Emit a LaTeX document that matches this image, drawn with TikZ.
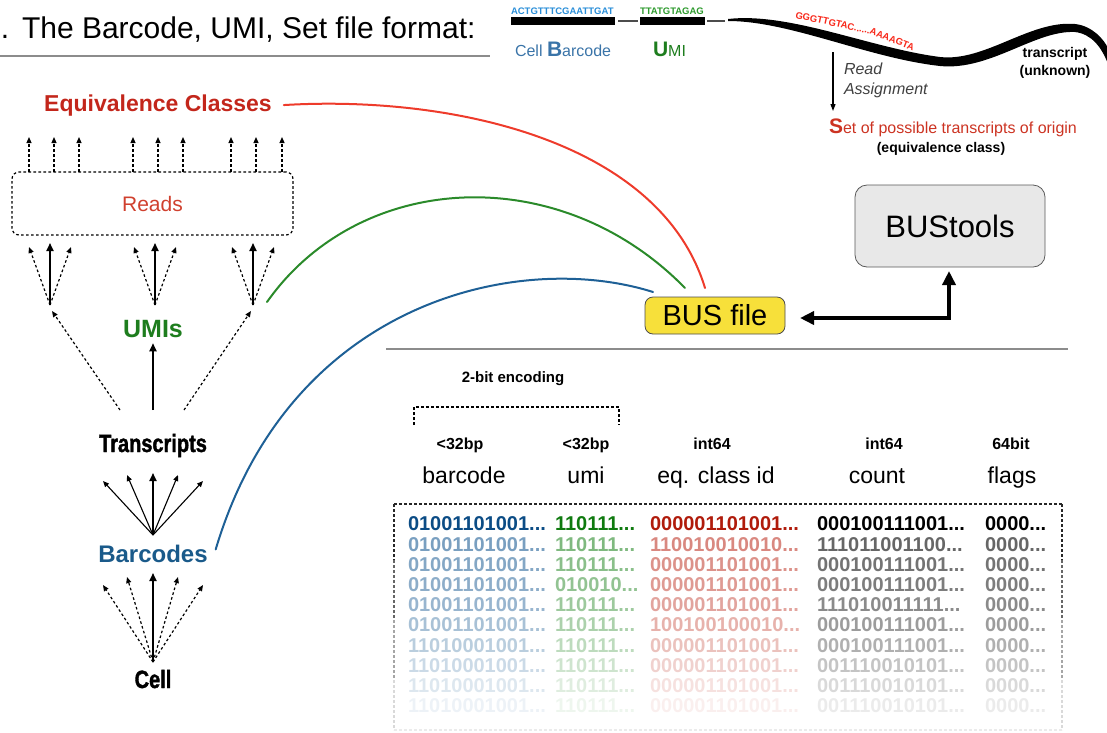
\documentclass[tikz,border=0pt]{standalone}
\usepackage{fontspec}
\setmainfont{Liberation Sans}
\newfontfamily\heavyfont{Liberation Sans}[UprightFont={* Bold}, FakeBold=1.5, FakeStretch=0.8]
\usetikzlibrary{arrows.meta,calc}
\newcommand\fsz[1]{\fontsize{#1}{#1}\selectfont}
\definecolor{eqred}{HTML}{C3261B}
\definecolor{readsred}{HTML}{D0402E}
\definecolor{setred}{HTML}{CC3322}
\definecolor{seqred}{HTML}{F8281A}
\definecolor{curvered}{HTML}{EE3B2B}
\definecolor{umigreen}{HTML}{1E7D1E}
\definecolor{seqgreen}{HTML}{2E9A2E}
\definecolor{curvegreen}{HTML}{2A8A2A}
\definecolor{bcblue}{HTML}{1A5A8A}
\definecolor{seqblue}{HTML}{2A8ED8}
\definecolor{cbblue}{HTML}{3A74A8}
\definecolor{curveblue}{HTML}{1E6096}
\definecolor{busyellow}{HTML}{F7E03A}
\definecolor{btgray}{HTML}{E8E8E8}
\definecolor{rowblueA}{HTML}{0B4C85}
\definecolor{rowgreenA}{HTML}{0F7A0F}
\definecolor{rowredA}{HTML}{B01B0B}
\definecolor{rowblue}{HTML}{1F5F96}
\definecolor{rowgreen}{HTML}{2A8A2A}
\definecolor{rowred}{HTML}{C0392B}
\tikzset{
  dsh/.style={dash pattern=on 2.6pt off 2.4pt, line width=1.2pt},
  tipS/.style={-{Triangle[length=6pt,width=5pt]}},
  tipM/.style={-{Triangle[length=8pt,width=7pt]}},
  solidarr/.style={line width=1.8pt, tipM},
  thinarr/.style={line width=1.1pt, tipS},
  curve/.style={line width=2pt, line cap=round},
  rowtxt/.style={anchor=west, font=\fsz{20}\bfseries},
  seqtxt/.style={font=\fsz{9.5}\bfseries, text=seqred},
}
\begin{document}
\begin{tikzpicture}[x=1pt,y=-1pt, every node/.style={inner sep=0pt, outer sep=0pt}]
\useasboundingbox (0,0) rectangle (1107,732);

% ---- title
\node[anchor=base west, font=\fsz{30}] (dot) at (1,38) {.};
\node[anchor=base west, font=\fsz{30}] (title) at (22,38) {The Barcode, UMI, Set file format:};
\draw[black!45, line width=1.5pt] (0,56) -- (490,56);

% ---- top right read structure
\node[anchor=base west, font=\fsz{9.5}\bfseries, text=seqblue] (bcseq) at (511,14) {ACTGTTTCGAATTGAT};
\fill (511,17) rectangle (615,25);
\draw[line width=1.3pt, black!70] (618,21) -- (638,21);
\node[anchor=base west, font=\fsz{9.5}\bfseries, text=seqgreen] (umiseq) at (640,14) {TTATGTAGAG};
\fill (640,17) rectangle (705,25);
\draw[line width=1.3pt, black!70] (707,21) -- (725,21);
\fill (728,19) .. controls (790,12) and (870,48) .. (940,57)
  .. controls (985,62) and (1030,20) .. (1075,24)
  .. controls (1093,26) and (1104,40) .. (1108,48)
  -- (1108,64) .. controls (1102,48) and (1092,34) .. (1075,32)
  .. controls (1035,30) and (990,71) .. (940,66)
  .. controls (868,58) and (790,21) .. (728,21) -- cycle;
\node[seqtxt, rotate=-12, anchor=base west] (seq1) at (795,18) {GGGTTGTAC......};
\node[seqtxt, rotate=-21, anchor=base west] (seq2) at (seq1.base east) {AAAAGTA};
\node[anchor=base west, font=\fsz{16}, text=cbblue] (cb) at (515,56) {Cell {\fsz{21}\bfseries B}arcode};
\node[anchor=base west, font=\fsz{16}, text=umigreen] (umil) at (653,56) {{\fsz{21}\bfseries U}MI};
\node[anchor=base, font=\fsz{14}\bfseries] (tr1) at (1055,57) {transcript};
\node[anchor=base, font=\fsz{14}\bfseries] (tr2) at (1055,75) {(unknown)};
\coordinate (ra1) at (833,52);
\coordinate (ra2) at (833,111);
\draw[line width=1.1pt, -{Triangle[length=7pt,width=5pt]}] (ra1) -- (ra2);
\node[anchor=base west, font=\fsz{16}\itshape, text=black!75] (read) at (844,74) {Read};
\node[anchor=base west, font=\fsz{16}\itshape, text=black!75] (assign) at (844,94) {Assignment};
\node[anchor=base west, font=\fsz{16}, text=setred] (set) at (829,133) {{\fsz{21}\bfseries S}et of possible transcripts of origin};
\node[anchor=base, font=\fsz{14}\bfseries] (eqc) at (941,152) {(equivalence class)};

% ---- left hierarchy
\node[anchor=base, font=\fsz{23}\bfseries, text=eqred] (eq) at (158,111) {Equivalence Classes};
\node[draw, dsh, rounded corners=7pt, minimum width=281pt, minimum height=63pt,
      font=\fsz{21}, text=readsred] (box) at (152.5,203.5) {Reads};
\foreach \x in {29,54,79,133,158,183,231,256,282}
  \draw[dsh, tipS] (\x,0 |- box.north) -- (\x,137);
\foreach \gx/\n in {50/1,155/2,253/3} {
  \coordinate (g\n) at (\gx,305);
  \draw[solidarr] (g\n) -- ($(g\n)+(0,-62)$);
  \draw[dsh, tipS] (g\n) -- ($(g\n)+(-21,-58)$);
  \draw[dsh, tipS] (g\n) -- ($(g\n)+(21,-58)$);
}
\node[anchor=base, font=\fsz{25}\bfseries, text=umigreen] (umis) at (153,337) {UMIs};
\node[anchor=base, font=\fsz{25}\heavyfont] (trans) at (153,452) {Transcripts};
\coordinate (tl) at (120,410);
\coordinate (tc) at (153,410);
\coordinate (tr) at (184,410);
\draw[dsh, tipS] (tl) -- ($(g1)+(2,6)$);
\draw[dsh, tipS] (tr) -- ($(g3)+(-2,6)$);
\draw[solidarr] (tc) -- ($(umis.south)+(0,6)$);
\node[anchor=base, font=\fsz{24}\bfseries, text=bcblue] (barc) at (153,562) {Barcodes};
\coordinate (fb) at (153,535);
\foreach \tx/\ty in {103/481,127/475,178/475,203/481}
  \draw[thinarr] (fb) -- (\tx,\ty);
\draw[solidarr] (fb) -- (153,473);
\node[anchor=base, font=\fsz{25}\heavyfont] (cell) at (153,688) {Cell};
\coordinate (fc) at (153,662);
\foreach \tx/\ty in {103/585,127/577,178/577,203/585}
  \draw[dsh, tipS] (fc) -- (\tx,\ty);
\draw[solidarr] (fc) -- (153,573);

% ---- BUS file and BUStools
\node[draw=black!70, line width=0.8pt, fill=busyellow, rounded corners=8pt,
      minimum width=140pt, minimum height=37pt, font=\fsz{29}] (bus) at (715,315.5) {BUS file};
\node[draw=black!65, line width=0.8pt, fill=btgray, rounded corners=12pt,
      minimum width=190pt, minimum height=82pt, font=\fsz{31}] (bt) at (950,226) {BUStools};
\draw[line width=3.5pt, {Triangle[length=14pt,width=13pt]}-{Triangle[length=14pt,width=13pt]}]
  ($(bus.east)+(15,2.5)$) -| ($(bt.south)+(-1,4)$);

% ---- connecting curves
\coordinate (rs) at ($(eq.east)+(12,0)$);
\coordinate (re) at ($(bus.north)+(-10,-9)$);
\coordinate (gs) at ($(g3)+(14,-3)$);
\coordinate (ge) at ($(bus.north)+(-30,-9)$);
\coordinate (bs) at ($(barc.east)+(8,-4)$);
\coordinate (be) at ($(bus.north)+(-62,-5)$);
\draw[curve, curvered] (rs) .. controls (450,95) and (660,140) .. (re);
\draw[curve, curvegreen] (gs) .. controls (360,170) and (560,160) .. (ge);
\draw[curve, curveblue] (bs) .. controls (290,300) and (520,250) .. (be);

% ---- table
\draw[black!45, line width=1.5pt] (386,349) -- (1068,349);
\node[anchor=base, font=\fsz{15}\bfseries] (enc) at (513,382) {2-bit encoding};
\coordinate (bk1) at (414,425);
\coordinate (bk2) at (414,407);
\coordinate (bk3) at (619,407);
\coordinate (bk4) at (619,425);
\draw[dsh] (bk1) -- (bk2) -- (bk3) -- (bk4);
\foreach \x/\t in {460/{<32bp},586/{<32bp},712/int64,884/int64,1011/64bit}
  \node[anchor=base, font=\fsz{16}\bfseries] at (\x,449) {\t};
\foreach \x/\t in {464/barcode,586/umi,716/{eq. class id},877/count,1012/flags}
  \node[anchor=base, font=\fsz{23}] at (\x,483) {\t};
% fading dashed frame
\draw[dsh, black!85] (394,504) -- (1062,504);
\foreach \ya/\yb/\c in {504/560/85,560/620/60,620/680/35,680/730/15} {
  \draw[dsh, black!\c] (394,\ya) -- (394,\yb);
  \draw[dsh, black!\c] (1062,\ya) -- (1062,\yb);
}
\draw[dsh, black!8] (394,730) -- (1062,730);
% first row
\node[rowtxt, text=rowblueA] at (408,524) {01001101001...};
\node[rowtxt, text=rowgreenA] at (555,524) {110111...};
\node[rowtxt, text=rowredA] at (650,524) {000001101001...};
\node[rowtxt, text=black] at (817,524) {000100111001...};
\node[rowtxt, text=black] at (985,524) {0000...};
% remaining rows
\foreach \r/\p/\b/\u/\e/\c in {
  2/60/01001101001/110111/110010010010/111011001100,
  3/55/01001101001/110111/000001101001/000100111001,
  4/51/01001101001/010010/000001101001/000100111001,
  5/46/01001101001/110111/000001101001/111010011111,
  6/39/01001101001/110111/100100100010/000100111001,
  7/31/11010001001/110111/000001101001/000100111001,
  8/23/11010001001/110111/000001101001/001110010101,
  9/15/11010001001/110111/000001101001/001110010101,
  10/8/11010001001/110111/000001101001/001110010101} {
  \pgfmathsetmacro\yy{524+(\r-1)*20.2}
  \node[rowtxt, text=rowblue!\p!white] at (408,\yy) {\b...};
  \node[rowtxt, text=rowgreen!\p!white] at (555,\yy) {\u...};
  \node[rowtxt, text=rowred!\p!white] at (650,\yy) {\e...};
  \node[rowtxt, text=black!\p!white] at (817,\yy) {\c...};
  \node[rowtxt, text=black!\p!white] at (985,\yy) {0000...};
}
\end{tikzpicture}
\end{document}
